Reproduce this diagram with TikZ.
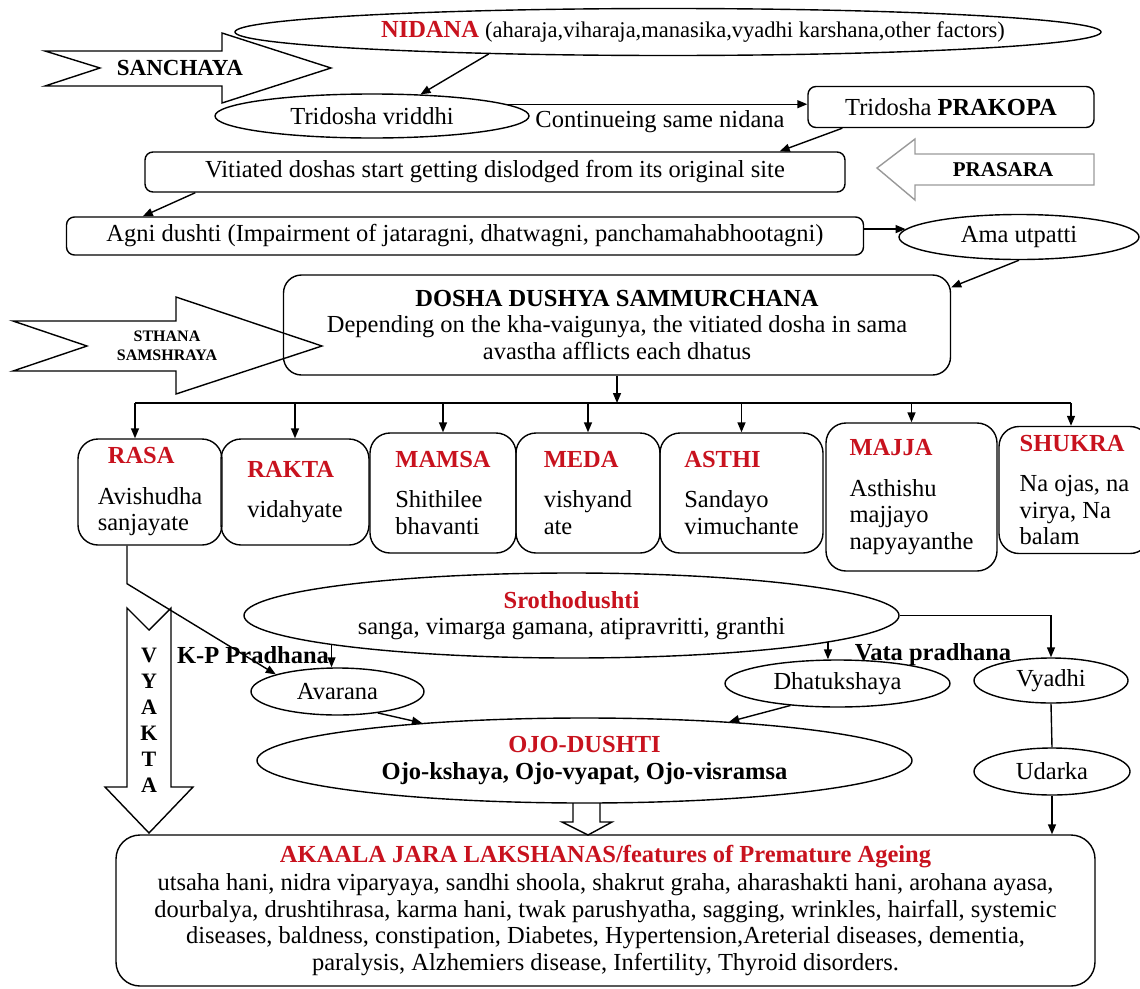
\documentclass[tikz,border=0pt]{standalone}
\usepackage{fontspec}
\setmainfont{Liberation Serif}
\usetikzlibrary{arrows.meta,shapes.geometric}
\definecolor{hdred}{RGB}{200,18,30}
\newcommand{\hd}[1]{\textcolor{hdred}{\textbf{#1}}}

\begin{document}
\begin{tikzpicture}[x=1pt, y=-1pt, line width=1.4pt,
    every node/.style={font=\fontsize{24.5}{26.5}\selectfont, inner sep=0pt},
    ell/.style={draw, ellipse},
    rbox/.style={draw, rounded corners=8pt},
    dhatu/.style={draw, rounded corners=20pt, align=left, minimum width=#1},
    arr/.style={-{Triangle[length=10pt,width=8pt]}},
    blk/.style={font=\fontsize{21}{24}\selectfont\bfseries}]
    \useasboundingbox (0,0) rectangle (1140,988);

    % Nidana and sanchaya
    \node[ell, minimum width=866, minimum height=47] (nidana) at (668,32) {};
    \node (nidanat) at (693,32) {\hd{NIDANA} {\fontsize{22.5}{24}\selectfont(aharaja,viharaja,manasika,vyadhi karshana,other factors)}};
    \draw (45,51) -- (100,68) -- (45,86) -- (222,86) -- (222,103) -- (331,68) -- (222,33) -- (222,51) -- cycle;
    \node[blk, font=\fontsize{23}{24}\selectfont\bfseries] (sanchaya) at (180,68) {SANCHAYA};

    % Vriddhi and prakopa
    \node[ell, minimum width=314, minimum height=44] (vriddhi) at (372,116) {Tridosha vriddhi};
    \draw[arr] (nidana.187) -- (vriddhi.24);
    \node[rbox, minimum width=286, minimum height=41] (prakopa) at (951,107) {Tridosha \textbf{PRAKOPA}};
    \draw[arr] (vriddhi.5) -- (vriddhi.5 -| prakopa.west);
    \node (cont) at (660,122) {Continueing same nidana};

    % Prasara
    \node[rbox, minimum width=700, minimum height=40] (vitiated) at (495,172) {Vitiated doshas start getting dislodged from its original site};
    \draw[arr] ([xshift=35pt]prakopa.south west) -- ([xshift=-66pt]vitiated.north east);
    \draw[black!40] (877,168) -- (915,139) -- (915,154) -- (1094,154) -- (1094,185) -- (915,185) -- (915,200) -- cycle;
    \node[blk] (prasara) at (1003,170) {PRASARA};

    % Agni and ama
    \node[rbox, minimum width=797, minimum height=38] (agni) at (465,236) {Agni dushti (Impairment of jataragni, dhatwagni, panchamahabhootagni)};
    \draw[arr] ([xshift=51pt]vitiated.south west) -- ([xshift=77pt]agni.north west);
    \node[ell, minimum width=240, minimum height=45] (ama) at (1019,237) {Ama utpatti};
    \draw[arr] (agni.east |- ama.176) -- (ama.176);

    % Sthana samshraya
    \node[rbox, rounded corners=18pt, minimum width=667, minimum height=100, align=center] (dosha) at (617,325)
        {\textbf{DOSHA DUSHYA SAMMURCHANA}\\Depending on the kha-vaigunya, the vitiated dosha in sama\\avastha afflicts each dhatus};
    \draw[arr] (ama.south) -- ([yshift=-13pt]dosha.north east);
    \draw (13,321) -- (87,346) -- (13,371) -- (176,371) -- (176,394) -- (322,346) -- (176,297) -- (176,321) -- cycle;
    \node[font=\fontsize{16}{19}\selectfont\bfseries, align=center] (sthana) at (167,346) {STHANA\\SAMSHRAYA};

    % Dhatus
    \coordinate (busL) at (135,403);
    \coordinate (busR) at (1071,403);
    \draw[arr] (dosha.south) -- (dosha.south |- busL);
    \draw (busL) -- (busR);
    \node[dhatu=144, minimum height=106] (rasa) at (150,492) {\hspace*{10pt}\hd{RASA}\\[14pt]Avishudha\\sanjayate};
    \node[dhatu=148, minimum height=106] (rakta) at (295,492) {\hd{RAKTA}\\[14pt]vidahyate};
    \node[dhatu=146, minimum height=120] (mamsa) at (443,493) {\hd{MAMSA}\\[14pt]Shithilee\\bhavanti};
    \node[dhatu=144, minimum height=120] (meda) at (588,493) {\hd{MEDA}\\[14pt]vishyand\\ate};
    \node[dhatu=163, minimum height=120] (asthi) at (741.5,493) {\hd{ASTHI}\\[14pt]Sandayo\\vimuchante};
    \node[dhatu=171, minimum height=148] (majja) at (911.5,497) {\hd{MAJJA}\\[14pt]Asthishu\\majjayo\\napyayanthe};
    \node[dhatu=151, minimum height=127] (shukra) at (1074.5,490) {\hd{SHUKRA}\\[14pt]Na ojas, na\\virya, Na\\balam};
    \draw[arr] (busL) -- (busL |- rasa.north);
    \draw[arr] (rakta.north |- busL) -- (rakta.north);
    \draw[arr] (mamsa.north |- busL) -- (mamsa.north);
    \draw[arr] (meda.north |- busL) -- (meda.north);
    \draw[arr] (asthi.north |- busL) -- (asthi.north);
    \draw[arr] (majja.north |- busL) -- (majja.north);
    \draw[arr] (busR) -- (busR |- shukra.north);

    % Vyakta
    \draw (127,608) -- (149,630) -- (171,608) -- (171,787) -- (193,787) -- (149,833) -- (105,787) -- (127,787) -- cycle;
    \node[font=\fontsize{22}{26}\selectfont\bfseries, align=center] (vyakta) at (149,720) {V\\Y\\A\\K\\T\\A};

    % Srothodushti
    \node[ell, minimum width=655, minimum height=85, align=center] (srotho) at (571.5,615.5)
        {\hd{Srothodushti}\\sanga, vimarga gamana, atipravritti, granthi};
    \node[font=\fontsize{24.5}{26}\selectfont\bfseries] (kp) at (253,655) {K-P Pradhana};
    \node[font=\fontsize{24.5}{26}\selectfont\bfseries] (vata) at (933,655) {Vata pradhana};
    \node[ell, minimum width=173, minimum height=47] (avarana) at (337.5,691.5) {Avarana};
    \node[ell, minimum width=225, minimum height=47] (dhatuk) at (837.5,683.5) {Dhatukshaya};
    \node[ell, minimum width=154, minimum height=45] (vyadhi) at (1051,680.5) {Vyadhi};
    \node[ell, minimum width=156, minimum height=47] (udarka) at (1052,771.5) {Udarka};
    \draw[arr] ([xshift=-23pt]rasa.south) -- ++(0,38) -- (avarana.north west);
    \draw[arr] (srotho.187) -- (srotho.187 |- avarana.north);
    \draw[arr] (srotho.354) -- (srotho.354 |- dhatuk.north);
    \draw[arr] (srotho.east) -| (vyadhi.north);
    \draw (vyadhi.south) -- (udarka.north);

    % Ojo dushti
    \node[ell, minimum width=655, minimum height=85, align=center] (ojo) at (584.5,760.5)
        {\hd{OJO-DUSHTI}\\\textbf{Ojo-kshaya, Ojo-vyapat, Ojo-visramsa}};
    \draw[arr] (avarana.332) -- (ojo.167);
    \draw[arr] (dhatuk.205) -- (ojo.15);

    % Akaala jara
    \node[draw, rounded corners=24pt, minimum width=979, minimum height=151, align=center] (akaala) at (605.5,910.5)
        {\hd{AKAALA JARA LAKSHANAS/features of Premature Ageing}\\[2pt]
         utsaha hani, nidra viparyaya, sandhi shoola, shakrut graha, aharashakti hani, arohana ayasa,\\
         dourbalya, drushtihrasa, karma hani, twak parushyatha, sagging, wrinkles, hairfall, systemic\\
         diseases, baldness, constipation, Diabetes, Hypertension,Areterial diseases, dementia,\\
         paralysis, Alzhemiers disease, Infertility, Thyroid disorders.};
    \draw[arr] (udarka.south) -- (udarka.south |- akaala.north);
    \draw (573,803) -- (573,822) -- (562,822) -- (588,835) -- (612,822) -- (600,822) -- (600,803);
\end{tikzpicture}
\end{document}
